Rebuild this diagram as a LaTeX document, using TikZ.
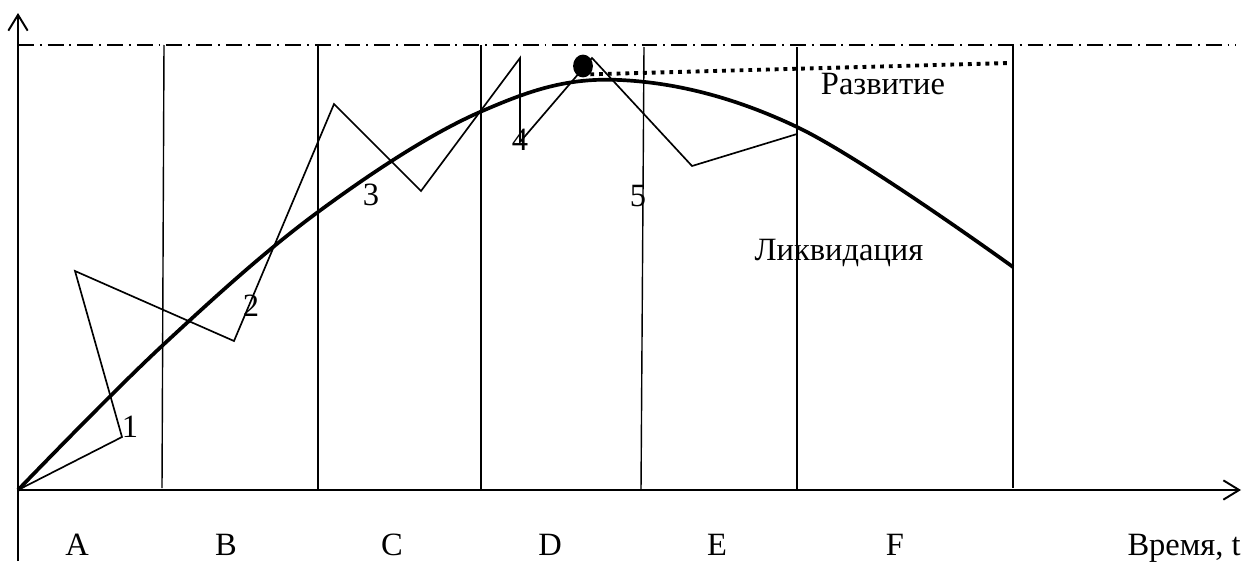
\documentclass[tikz,border=0pt]{standalone}
\usepackage{fontspec}
\setmainfont{Liberation Serif}
\usepackage{tikz}
\usetikzlibrary{arrows.meta, positioning, shapes.geometric}

\begin{document}
\begin{tikzpicture}[
  x=0.02cm, y=-0.02cm,
  every node/.style={font=\fontsize{18.5}{20}\selectfont, inner sep=0pt},
  axis/.style={line width=1.1pt,
    -{Straight Barb[length=9pt, width=11pt, line width=1.1pt]}},
  stage/.style={line width=0.8pt},
  limit/.style={line width=1.1pt,
    dash pattern=on 9pt off 3.4pt on 1.1pt off 3.4pt},
  trend/.style={line width=2.1pt, line join=round},
  path/.style={line width=0.95pt, line join=miter},
  develop/.style={line width=2.2pt, dash pattern=on 2.2pt off 2.8pt},
  dotmark/.style={ellipse, fill=black, minimum width=11.3pt,
    minimum height=13pt, inner sep=0pt},
  lbl/.style={anchor=base},
]
\useasboundingbox (0,0) rectangle (1250,561);

% === AXES ===
\coordinate (o) at (18,490);
\coordinate (ytop) at (18,13);
\coordinate (ybot) at (18,561);
\coordinate (xend) at (1241,490);
\draw[axis] (ybot) -- (ytop);
\draw[axis] (o) -- (xend);

% upper limit
\coordinate (lim-l) at (18,45);
\coordinate (lim-r) at (1236,45);
\draw[limit] (lim-l) -- (lim-r);

% === STAGE BORDERS ===
\foreach \name/\xt/\yt/\xb/\yb in {sB/164/45/162/488, sC/318/45/318/490,
    sD/481/45/481/490, sE/644/47/641/490, sF/797/47/797/490,
    sG/1013/45/1013/488} {
  \coordinate (\name-t) at (\xt,\yt);
  \coordinate (\name-b) at (\xb,\yb);
  \draw[stage] (\name-t) -- (\name-b);
}

% === TREND ===
\draw[trend] plot[smooth, tension=0.6] coordinates {
  (18,490) (163,345) (318,212) (480,112) (620,80)
  (797,127) (1013,267)};

% === ACTUAL PATH ===
\coordinate (z1) at (122,437);
\coordinate (z2) at (75,271);
\coordinate (z3) at (234,341);
\coordinate (z4) at (334,104);
\coordinate (z5) at (421,191);
\coordinate (z6) at (520,58);
\coordinate (z7) at (520,142);
\coordinate (z8) at (592,58);
\coordinate (z9) at (692,166);
\coordinate (z10) at (797,134);
\draw[path] (o) -- (z1) -- (z2) -- (z3) -- (z4) -- (z5) -- (z6)
  -- (z7) -- (z8) -- (z9) -- (z10);

% branch point
\node[dotmark] (peak) at (583,66) {};
\coordinate (dev-end) at (1010,63);
\draw[develop] (peak.south east) -- (dev-end);

% === LABELS ===
\node (n1) at (130,427) {1};
\node (n2) at (251,306) {2};
\node (n3) at (371,195) {3};
\node (n4) at (520,140) {4};
\node (n5) at (638,196) {5};
\node[lbl] (dev) at (883,94) {Развитие};
\node[lbl] (liq) at (839,260) {Ликвидация};

\node[lbl] (stA) at (77,555) {A};
\node[lbl] (stB) at (226,555) {B};
\node[lbl] (stC) at (392,555) {C};
\node[lbl] (stD) at (550,555) {D};
\node[lbl] (stE) at (717,555) {E};
\node[lbl] (stF) at (895,555) {F};
\node[anchor=base east] (time) at (1241,555) {Время, t};

\end{tikzpicture}
\end{document}
